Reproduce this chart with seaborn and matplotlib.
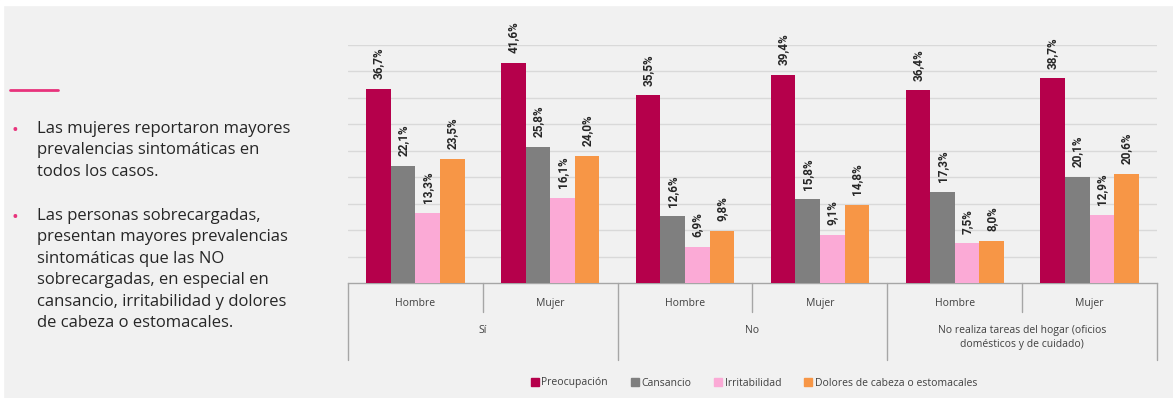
import matplotlib
matplotlib.use("Agg")
import matplotlib.pyplot as plt
from matplotlib.lines import Line2D
from matplotlib.patches import Rectangle
import seaborn as sns
import pandas as pd

# Data: symptom prevalence (%) by household-load group and sex
grupos = ["Sí", "No", "No realiza tareas del hogar (oficios\ndomésticos y de cuidado)"]
sexos = ["Hombre", "Mujer"]
sintomas = ["Preocupación", "Cansancio", "Irritabilidad", "Dolores de cabeza o estomacales"]

preocupacion = [36.7, 41.6, 35.5, 39.4, 36.4, 38.7]
cansancio = [22.1, 25.8, 12.6, 15.8, 17.3, 20.1]
irritabilidad = [13.3, 16.1, 6.9, 9.1, 7.5, 12.9]
dolores = [23.5, 24.0, 9.8, 14.8, 8.0, 20.6]

colores = ["#B5004B", "#7F7F7F", "#FBAAD6", "#F79646"]

series = [preocupacion, cansancio, irritabilidad, dolores]
claves = [f"{g}|{s}" for g in grupos for s in sexos]
rows = []
for sint, vals in zip(sintomas, series):
    for k, v in zip(claves, vals):
        rows.append({"clave": k, "sintoma": sint, "valor": v})
df = pd.DataFrame(rows)

BG = "#F1F1F1"
TXT = "#262626"
LINE = "#A6A6A6"

sns.set_theme(style="white")
plt.rcParams["font.family"] = ["Open Sans", "DejaVu Sans"]

fig = plt.figure(figsize=(11.73, 3.98), dpi=100, facecolor=BG)
ax = fig.add_axes([348 / 1173, 1 - 283 / 398, 809 / 1173, 238 / 398])
ax.set_facecolor(BG)

sns.barplot(data=df, x="clave", y="valor", hue="sintoma", order=claves,
            hue_order=sintomas, palette=dict(zip(sintomas, colores)),
            width=0.73, saturation=1, linewidth=0, edgecolor="none",
            ax=ax, legend=False, zorder=3)

ax.set_xlim(-0.5, len(claves) - 0.5)
ax.set_ylim(0, 45)
ax.set_yticks(range(5, 50, 5))
ax.yaxis.grid(True, color="#D9D9D9", linewidth=1.0, zorder=0)
ax.xaxis.grid(False)
ax.tick_params(axis="y", length=0, labelleft=False)
ax.set_xlabel("")
ax.set_ylabel("")
for side in ["top", "right", "left"]:
    ax.spines[side].set_visible(False)
ax.spines["bottom"].set_color(LINE)
ax.spines["bottom"].set_linewidth(1.0)

# Sex labels under each bar group
ax.set_xticks(range(len(claves)))
ax.set_xticklabels([s for g in grupos for s in sexos], fontsize=7.5, color="#404040")
ax.tick_params(axis="x", length=0, pad=11)

# Value labels, rotated, with decimal comma
for cont in ax.containers:
    labs = [f"{v:.1f}%".replace(".", ",") for v in cont.datavalues]
    ax.bar_label(cont, labels=labs, rotation=90, padding=7, fontsize=8.5,
                 fontweight="bold", color=TXT, clip_on=False,
                 family=["Roboto", "DejaVu Sans"])

# Group labels and separators below the axis
tr = ax.get_xaxis_transform()
for i, g in enumerate(grupos):
    ax.text(2 * i + 0.5, -0.175, g, transform=tr, ha="center", va="top",
            fontsize=7.5, color="#404040", linespacing=1.45)
for x in [-0.5, 1.5, 3.5, 5.5]:
    ax.plot([x, x], [0, -0.325], transform=tr, color=LINE, lw=1.0, clip_on=False)
for x in [0.5, 2.5, 4.5]:
    ax.plot([x, x], [0, -0.122], transform=tr, color=LINE, lw=1.0, clip_on=False)

# Legend
handles = [Rectangle((0, 0), 1, 1, color=c) for c in colores]
fig.legend(handles, sintomas, loc="center", bbox_to_anchor=(754 / 1173, 1 - 383 / 398),
           ncol=4, frameon=False, fontsize=7.5, handlelength=0.75, handleheight=0.75,
           handletextpad=0.25, columnspacing=2.2, labelcolor="#404040")

# Side notes
fig.add_artist(Line2D([10 / 1173, 58 / 1173], [1 - 90 / 398] * 2, color="#E8337C", lw=2))
notas = [
    ("Las mujeres reportaron mayores\nprevalencias sintomáticas en\ntodos los casos.", 131),
    ("Las personas sobrecargadas,\npresentan mayores prevalencias\nsintomáticas que las NO\n"
     "sobrecargadas, en especial en\ncansancio, irritabilidad y dolores\n"
     "de cabeza o estomacales.", 218),
]
for texto, ytop in notas:
    fig.text(15 / 1173, 1 - ytop / 398, "•", ha="center", va="center",
             fontsize=13, color="#E8337C")
    fig.text(37 / 1173, 1 - (ytop - 10) / 398, texto, ha="left", va="top",
             fontsize=12, color=TXT, linespacing=1.45)

# White margin strips along the top and left edges
fig.add_artist(Rectangle((0, 1 - 5 / 398), 1, 5 / 398, transform=fig.transFigure,
                         color="white", zorder=10))
fig.add_artist(Rectangle((0, 0), 3 / 1173, 1, transform=fig.transFigure,
                         color="white", zorder=10))

fig.savefig("out.png", dpi=100, facecolor=BG)
